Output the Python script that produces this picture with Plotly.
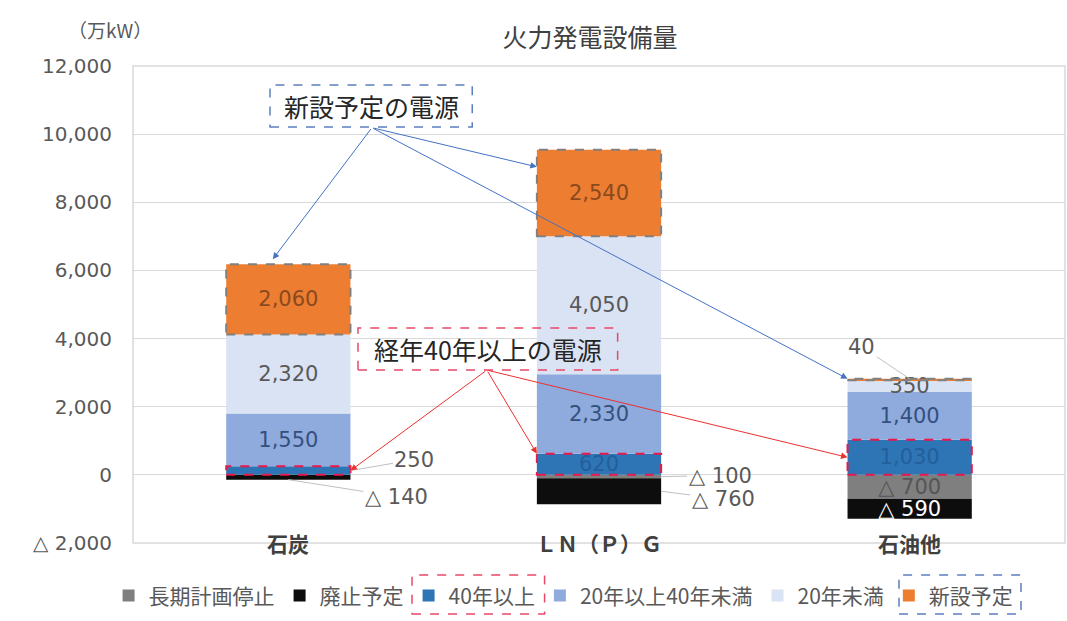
import plotly.graph_objects as go

categories = ["石炭", "ＬＮ（Ｐ）Ｇ", "石油他"]
series_names = ["長期計画停止", "廃止予定", "40年以上", "20年以上40年未満", "20年未満", "新設予定"]
long_term_stop = [0, -100, -700]
retire = [-140, -760, -590]
over40 = [250, 620, 1030]
y20_40 = [1550, 2330, 1400]
under20 = [2320, 4050, 350]
new_plan = [2060, 2540, 40]
ytick_vals = [-2000, 0, 2000, 4000, 6000, 8000, 10000, 12000]
ytick_text = ["△ 2,000", "0", "2,000", "4,000", "6,000", "8,000", "10,000", "12,000"]

series = [long_term_stop, retire, over40, y20_40, under20, new_plan]
colors = ["#7f7f7f", "#0d0d0d", "#2e75b6", "#8faadc", "#dae3f3", "#ed7d31"]
text_colors = ["#555555", "#ffffff", "#235f9a", "#34507e", "#595959", "#8a4a1e"]
# (series index, category index) labels drawn outside with leader lines
outside = {(2, 0): (64, -11), (1, 0): (108, 17), (0, 1): (59, -1), (1, 1): (62, 8), (5, 2): (-48, -32)}

W = 0.4
FONT = "DejaVu Sans, Noto Sans CJK JP"
JFONT = "Noto Sans CJK JP"


def fmt(v):
    return ("△ " + format(-v, ",")) if v < 0 else format(v, ",")


fig = go.Figure()
for si, (name, vals) in enumerate(zip(series_names, series)):
    txt = []
    for ci, v in enumerate(vals):
        if (si, ci) in outside or v == 0:
            txt.append("")
        else:
            txt.append(fmt(v))
    fig.add_trace(go.Bar(
        name=name, x=categories, y=vals, width=W,
        marker=dict(color=colors[si], line=dict(width=0)),
        text=txt, textposition="inside", insidetextanchor="middle",
        textangle=0, constraintext="none",
        textfont=dict(family=FONT, size=21, color=text_colors[si]),
        hoverinfo="skip",
    ))

shapes = []
annotations = []

# dashed outlines on bars
for ci in range(len(categories)):
    base_new = over40[ci] + y20_40[ci] + under20[ci]
    shapes.append(dict(type="rect", xref="x", yref="y", x0=ci - W / 2, x1=ci + W / 2,
                       y0=base_new, y1=base_new + new_plan[ci],
                       line=dict(color="#808080", width=2, dash="dash"), layer="above"))
    shapes.append(dict(type="rect", xref="x", yref="y", x0=ci - W / 2, x1=ci + W / 2,
                       y0=0, y1=over40[ci],
                       line=dict(color="#e8194b", width=2, dash="dash"), layer="above"))

# outside labels with leader lines
for (si, ci), (ax, ay) in outside.items():
    vals = series[si]
    below = sum(series[k][ci] for k in range(si) if (series[k][ci] < 0) == (vals[ci] < 0))
    mid = below + vals[ci] / 2
    if si == 5 or (si, ci) == (1, 0):
        px, py = ci, below + vals[ci]
    else:
        px, py = ci + W / 2, mid
    annotations.append(dict(x=px, y=py, xref="x", yref="y", ax=ax, ay=ay, text=fmt(vals[ci]),
                            showarrow=True, arrowhead=0, arrowwidth=1, arrowcolor="#c0c0c0",
                            font=dict(family=FONT, size=21, color="#595959")))

# callout boxes
shapes.append(dict(type="rect", xref="paper", yref="paper", x0=0.147, x1=0.364, y0=0.872, y1=0.960,
                   line=dict(color="#5b7fc0", width=1.5, dash="dash"), fillcolor="rgba(255,255,255,0)"))
annotations.append(dict(x=0.2555, y=0.916, xref="paper", yref="paper", xanchor="center", yanchor="middle",
                        showarrow=False, text="新設予定の電源",
                        font=dict(family=JFONT, size=25, color="#262626")))
shapes.append(dict(type="rect", xref="paper", yref="paper", x0=0.2414, x1=0.520, y0=0.3627, y1=0.4507,
                   line=dict(color="#e8486a", width=1.5, dash="dash"), fillcolor="rgba(255,255,255,0)"))
annotations.append(dict(x=0.381, y=0.4067, xref="paper", yref="paper", xanchor="center", yanchor="middle",
                        showarrow=False, text="経年40年以上の電源",
                        font=dict(family=JFONT, size=25, color="#262626")))

# arrows from callouts
tops = [over40[i] + y20_40[i] + under20[i] + new_plan[i] for i in range(3)]
blue_targets = [(0 - W / 2 + 0.15, tops[0] + 150), (1 - W / 2, tops[1] - 500), (2 - W / 2, tops[2])]
for tx, ty in blue_targets:
    annotations.append(dict(x=tx, y=ty, xref="x", yref="y", ax=0.269, ay=10190, axref="x", ayref="y",
                            text="", showarrow=True, arrowhead=2, arrowsize=1.3, arrowwidth=1,
                            arrowcolor="#4472c4"))
red_targets = [(0 + W / 2, over40[0] / 2), (1 - W / 2, over40[1]), (2 - W / 2, over40[2] / 2)]
for tx, ty in red_targets:
    annotations.append(dict(x=tx, y=ty, xref="x", yref="y", ax=0.639, ay=3075, axref="x", ayref="y",
                            text="", showarrow=True, arrowhead=2, arrowsize=1.3, arrowwidth=1,
                            arrowcolor="#ee3030"))

# category labels on the bottom frame line
for ci, c in enumerate(categories):
    annotations.append(dict(x=ci, y=0, xref="x", yref="paper", xanchor="center", yanchor="middle",
                            showarrow=False, text="<b>" + c + "</b>",
                            font=dict(family=JFONT, size=21, color="#404040")))

# y axis unit
annotations.append(dict(x=-0.025, y=1.0755, xref="paper", yref="paper", xanchor="center", yanchor="middle",
                        showarrow=False, text="（万kW）",
                        font=dict(family=JFONT, size=19, color="#595959")))

# plot frame
shapes.append(dict(type="rect", xref="paper", yref="paper", x0=0, x1=1, y0=0, y1=1,
                   line=dict(color="#d9d9d9", width=1.5), layer="below"))

# dashed boxes around two legend entries
shapes.append(dict(type="rect", xref="paper", yref="paper", x0=0.2994, x1=0.4416, y0=-0.149, y1=-0.067,
                   line=dict(color="#e8486a", width=1.5, dash="dash")))
shapes.append(dict(type="rect", xref="paper", yref="paper", x0=0.8219, x1=0.9528, y0=-0.149, y1=-0.067,
                   line=dict(color="#5b7fc0", width=1.5, dash="dash")))

fig.update_layout(
    width=1067, height=621,
    margin=dict(l=133, r=2, t=66, b=78, autoexpand=False),
    barmode="relative",
    plot_bgcolor="white", paper_bgcolor="white",
    title=dict(text="火力発電設備量", x=0.553, xanchor="center", y=0.939, yanchor="middle",
               font=dict(family=JFONT, size=25, color="#404040")),
    xaxis=dict(type="category", range=[-0.5, 2.5], showticklabels=False, showgrid=False,
               zeroline=False, showline=False, ticks=""),
    yaxis=dict(range=[-2000, 12000], tickvals=ytick_vals, ticktext=ytick_text,
               showgrid=True, gridcolor="#d9d9d9", gridwidth=1, zeroline=False, showline=False,
               ticks="", ticklabelstandoff=20,
               tickfont=dict(family=FONT, size=20, color="#595959")),
    legend=dict(orientation="h", x=0.462, xanchor="center", y=-0.111, yanchor="middle",
                font=dict(family=JFONT, size=21, color="#595959"), traceorder="normal",
                bgcolor="rgba(0,0,0,0)"),
    showlegend=True,
    shapes=shapes,
    annotations=annotations,
)

fig.write_html("out.html", config={"displayModeBar": False},
               post_script="document.body.style.margin='0';document.body.style.overflow='hidden';")
